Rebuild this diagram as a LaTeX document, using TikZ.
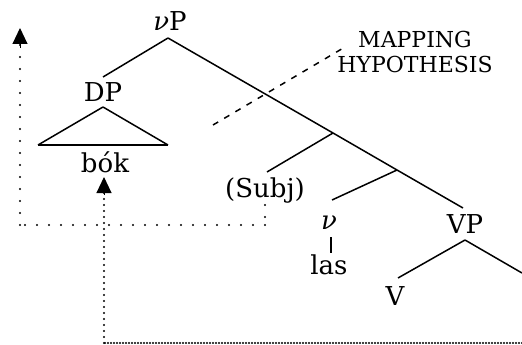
\documentclass[tikz,border=0pt]{standalone}
\usepackage{fontspec}
\setmainfont{DejaVu Serif}
\usetikzlibrary{arrows.meta}
\begin{document}
\begin{tikzpicture}[x=1pt,y=-1pt,
  lbl/.style={inner sep=0pt, font=\fontsize{26}{28}\selectfont},
  note/.style={inner sep=0pt, align=center, font=\fontsize{22}{25}\selectfont},
  branch/.style={line width=1.5pt},
  hypo/.style={line width=1.5pt, dash pattern=on 6pt off 7pt},
  sparse/.style={line width=2.3pt, line cap=round, dash pattern=on 0pt off 12pt},
  medium/.style={line width=2.3pt, line cap=round, dash pattern=on 0pt off 6pt},
  dense/.style={line width=2.1pt, line cap=round, dash pattern=on 0pt off 3pt},
  tip/.style={-{Triangle[width=15pt,length=16pt]}}
]
\useasboundingbox (0,0) rectangle (522,345);

% labels
\node[lbl] (vP)   at (170,21)  {\textit{ν}P};
\node[lbl] (DP)   at (103,92)  {DP};
\node[lbl] (bok)  at (105,162) {bók};
\node[lbl] (subj) at (265,191) {(Subj)};
\node[lbl] (v)    at (329,223) {\textit{ν}};
\node[lbl] (las)  at (329,265) {las};
\node[lbl] (VP)   at (465,224) {VP};
\node[lbl] (V)    at (395,296) {V};
\node[note] (mh)  at (415,52)  {MAPPING\\HYPOTHESIS};

% branching points of the tree
\coordinate (vPb) at (168,38);
\coordinate (b1)  at (333,133);
\coordinate (b2)  at (397,170);
\coordinate (VPt) at (463,208);
\coordinate (VPb) at (465,240);
\coordinate (Rt)  at (522,273);
\coordinate (DPt) at (103,77);
\coordinate (tri) at (103,107);
\coordinate (triL) at (38,145);
\coordinate (triR) at (168,145);
\coordinate (Subjt) at (267,172);
\coordinate (vt) at (332,200);
\coordinate (Vt) at (398,278);
\coordinate (vs) at (331,237);
\coordinate (lt) at (331,253);

% tree
\draw[branch] (vPb) -- (DPt);
\draw[branch] (vPb) -- (b1) -- (b2) -- (VPt);
\draw[branch] (b1) -- (Subjt);
\draw[branch] (b2) -- (vt);
\draw[branch] (vs) -- (lt);
\draw[branch] (VPb) -- (Vt);
\draw[branch] (VPb) -- (Rt);
\draw[branch] (tri) -- (triL);
\draw[branch] (tri) -- (triR);
\draw[line width=2pt] (triL) -- (triR);

% mapping hypothesis line
\coordinate (h0) at (213,125);
\coordinate (h1) at (345,47);
\draw[hypo] (h0) -- (h1);

% movement paths
\coordinate (s0) at (265,205);
\coordinate (s1) at (265,225);
\coordinate (s2) at (20,225);
\coordinate (s3) at (20,28);
\draw[sparse] (s0) -- (s1);
\draw[sparse] (s1) -- (s2);
\draw[sparse] (s2) -- (s3);
\draw[tip, line width=1pt] (20,48) -- (s3);

\coordinate (o0) at (522,343);
\coordinate (o1) at (104,343);
\coordinate (o2) at (104,177);
\draw[dense] (o0) -- (o1);
\draw[medium] (o1) -- (o2);
\draw[tip, line width=1pt] (104,195) -- (o2);
\end{tikzpicture}
\end{document}
